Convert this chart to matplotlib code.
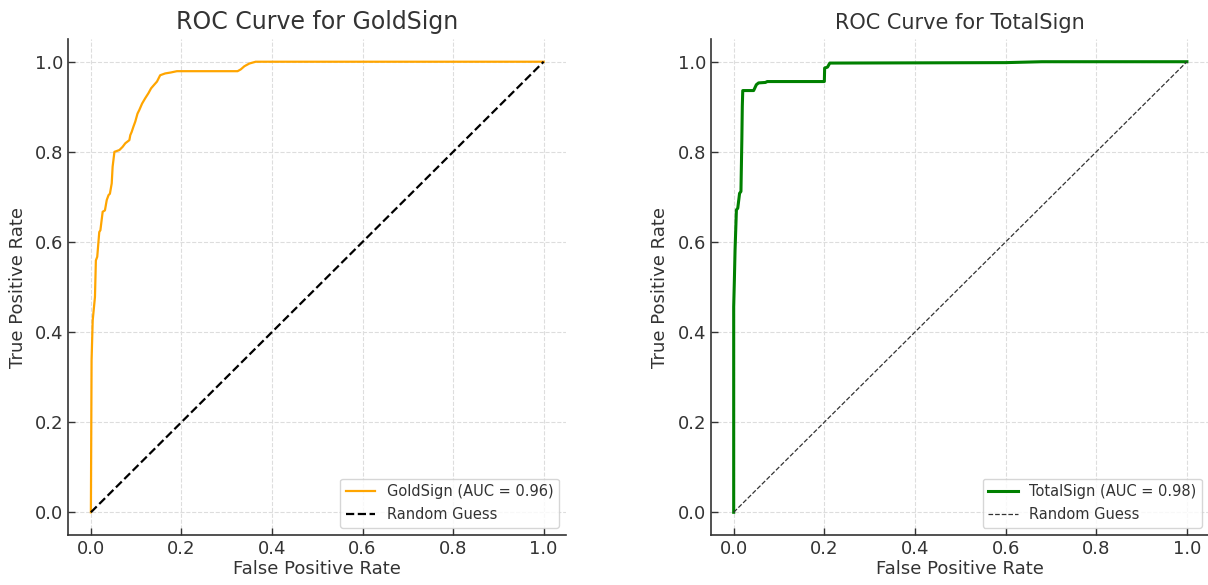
import matplotlib
matplotlib.use("Agg")
import matplotlib.pyplot as plt

# GoldSign ROC curve
gold_fpr = [0.0, 0.0015, 0.004, 0.009, 0.011, 0.014, 0.0185, 0.021, 0.026, 0.031,
            0.035, 0.039, 0.042, 0.046, 0.048, 0.052, 0.063, 0.070, 0.076, 0.085,
            0.087, 0.090, 0.094, 0.098, 0.103, 0.107, 0.113, 0.120, 0.127, 0.133,
            0.139, 0.146, 0.153, 0.164, 0.176, 0.190, 0.324, 0.331, 0.339, 0.350,
            0.364, 1.0]
gold_tpr = [0.0, 0.337, 0.426, 0.478, 0.559, 0.567, 0.622, 0.626, 0.667, 0.670,
            0.693, 0.704, 0.707, 0.730, 0.767, 0.800, 0.804, 0.811, 0.819, 0.826,
            0.837, 0.844, 0.856, 0.867, 0.885, 0.893, 0.907, 0.919, 0.930, 0.941,
            0.948, 0.956, 0.970, 0.974, 0.976, 0.979, 0.979, 0.983, 0.990, 0.996,
            1.0, 1.0]
gold_auc = 0.96

# TotalSign ROC curve
total_fpr = [0.0, 0.0, 0.0015, 0.003, 0.006, 0.009, 0.013, 0.016, 0.018, 0.019,
             0.020, 0.044, 0.050, 0.055, 0.070, 0.074, 0.200, 0.2007, 0.207, 0.212,
             0.60, 0.68, 1.0]
total_tpr = [0.0, 0.456, 0.515, 0.582, 0.671, 0.675, 0.708, 0.712, 0.827, 0.901,
             0.936, 0.936, 0.949, 0.953, 0.954, 0.956, 0.956, 0.986, 0.988, 0.997,
             0.998, 1.0, 1.0]
total_auc = 0.98

text_col = "#333333"
plt.rcParams.update({
    "font.family": "DejaVu Sans",
    "text.color": text_col,
    "axes.labelcolor": text_col,
    "xtick.color": text_col,
    "ytick.color": text_col,
    "axes.edgecolor": "#333333",
})

fig = plt.figure(figsize=(12.08, 5.85), dpi=100)
ax1 = fig.add_axes([0.0565, 0.0858, 0.4123, 0.8472])
ax2 = fig.add_axes([0.5886, 0.0858, 0.4127, 0.8472])

ax1.plot(gold_fpr, gold_tpr, color="orange", lw=1.6, label=f"GoldSign (AUC = {gold_auc:.2f})")
ax1.plot([0, 1], [0, 1], color="black", lw=1.6, linestyle="--", label="Random Guess")
ax1.set_title("ROC Curve for GoldSign", fontsize=17, pad=7)

ax2.plot(total_fpr, total_tpr, color="green", lw=2.2, label=f"TotalSign (AUC = {total_auc:.2f})")
ax2.plot([0, 1], [0, 1], color="#333333", lw=0.9, linestyle="--", label="Random Guess")
ax2.set_title("ROC Curve for TotalSign", fontsize=15, pad=7)

for ax in (ax1, ax2):
    ax.set_xlabel("False Positive Rate", fontsize=13, labelpad=2)
    ax.set_ylabel("True Positive Rate", fontsize=13, labelpad=6)
    ax.tick_params(labelsize=13, length=5, width=1, direction="in")
    ax.grid(True, linestyle="--", color="#dddddd", lw=0.8)
    ax.set_axisbelow(True)
    for s in ("top", "right"):
        ax.spines[s].set_visible(False)
    ax.spines["left"].set_linewidth(1.2)
    ax.spines["bottom"].set_linewidth(1.2)
    leg = ax.legend(loc="lower right", fontsize=10.5, frameon=True, fancybox=True)
    leg.get_frame().set_edgecolor("#cccccc")

fig.savefig("out.png", dpi=100)
